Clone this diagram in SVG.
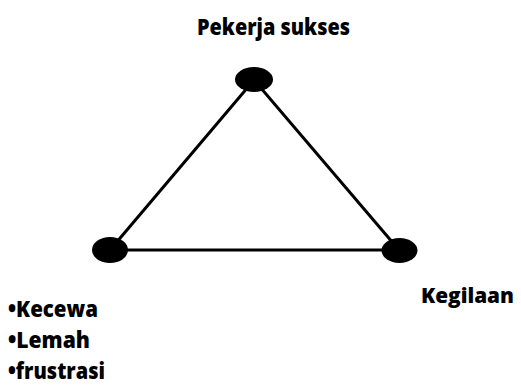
<svg xmlns="http://www.w3.org/2000/svg" width="521" height="388" viewBox="0 0 521 388">
<style>
.lbl{font-family:"Open Sans","Liberation Sans",sans-serif;font-weight:800;font-size:23px;fill:#000}
.edge{stroke:#000;stroke-width:3;fill:none}
.node{fill:#000}
</style>
<rect width="521" height="388" fill="#fff"/>
<g id="connectors">
<line class="edge" x1="254" y1="80" x2="110" y2="250"/>
<line class="edge" x1="254" y1="80" x2="399" y2="250"/>
<line class="edge" x1="110" y1="250" x2="399" y2="250"/>
</g>
<g id="node-top">
<ellipse class="node" cx="254" cy="79.5" rx="19" ry="12.5"/>
<text class="lbl" x="197" y="35" textLength="153" lengthAdjust="spacingAndGlyphs">Pekerja sukses</text>
</g>
<g id="node-left">
<ellipse class="node" cx="110" cy="250" rx="18" ry="13"/>
<text class="lbl" x="8" y="317" textLength="90" lengthAdjust="spacingAndGlyphs">•Kecewa</text>
<text class="lbl" x="8" y="348" textLength="82" lengthAdjust="spacingAndGlyphs">•Lemah</text>
<text class="lbl" x="8" y="379" textLength="97" lengthAdjust="spacingAndGlyphs">•frustrasi</text>
</g>
<g id="node-right">
<ellipse class="node" cx="399.5" cy="250.5" rx="18" ry="12.5"/>
<text class="lbl" x="421" y="303" style="font-size:21px" textLength="93" lengthAdjust="spacingAndGlyphs">Kegilaan</text>
</g>
</svg>
